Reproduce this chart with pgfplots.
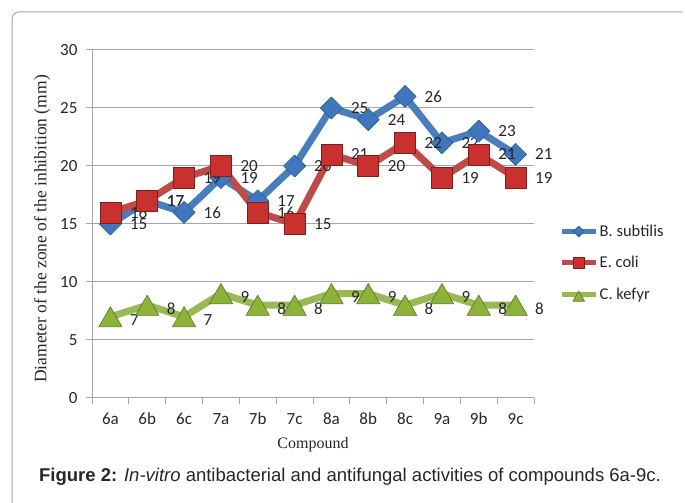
\documentclass[border=0pt]{standalone}
\usepackage{fontspec}
\setmainfont{Carlito}
\newfontfamily\serifl{Liberation Serif}
\newfontfamily\arial{Liberation Sans}
\usepackage{pgfplots}
\usepackage{pgfplotstable}
\pgfplotsset{compat=1.18}
\definecolor{bsline}{HTML}{4A7EBB}
\definecolor{bsmark}{HTML}{3E77BC}
\definecolor{bsedge}{HTML}{2C5A8F}
\definecolor{ecline}{HTML}{BE4B48}
\definecolor{ecmark}{HTML}{C9312F}
\definecolor{ecedge}{HTML}{7F1F1D}
\definecolor{ckline}{HTML}{98B954}
\definecolor{ckmark}{HTML}{8CB23A}
\definecolor{ckedge}{HTML}{5A7424}
\definecolor{gridc}{HTML}{A6A6A6}
\definecolor{txt}{HTML}{262626}
\pgfplotstableread{
x bs ec ck
0 15 16 7
1 17 17 8
2 16 19 7
3 19 20 9
4 17 16 8
5 20 15 8
6 25 21 9
7 24 20 9
8 26 22 8
9 22 19 9
10 23 21 8
11 21 19 8
}\data
\begin{document}
\begin{tikzpicture}[x=1pt,y=1pt]
\useasboundingbox (0,0) rectangle (685,503);
\draw[gridc, line width=1pt, rounded corners=7pt] (12,0) -- (12,491) -- (683,491);
\begin{axis}[
  at={(92pt,105pt)}, anchor=south west,
  scale only axis, width=442pt, height=348pt,
  xmin=-0.5, xmax=11.5, ymin=0, ymax=30,
  axis x line*=bottom, axis y line*=left,
  axis line style={gridc, line width=1pt, -},
  xtick={-0.5,0.5,...,11.5}, xticklabels={},
  extra x ticks={0,1,...,11},
  extra x tick labels={6a,6b,6c,7a,7b,7c,8a,8b,8c,9a,9b,9c},
  extra x tick style={major tick length=0pt, grid=none},
  xticklabel style={text height=11.5pt, text depth=3.5pt, yshift=-11.5pt},
  yticklabel style={xshift=-5pt},
  ytick={0,5,...,30},
  tick align=outside, major tick length=6pt,
  tick style={gridc, line width=1pt},
  ymajorgrids, grid style={gridc, line width=1pt},
  ticklabel style={font=\fontsize{17}{20}\selectfont, text=txt},
  /pgf/number format/assume math mode=true,
  clip=false,
  point meta=y,
  nodes near coords,
  every node near coord/.append style={anchor=west, xshift=16pt, font=\fontsize{17}{20}\selectfont, text=txt},
  legend style={at={(1.0566,0.388)}, anchor=west, draw=none, fill=none, font=\fontsize{16.5}{19}\selectfont, text=txt, row sep=15.5pt, inner sep=0pt, nodes={inner sep=1.5pt}},
  legend cell align=left,
  legend image code/.code={\draw[#1, line width=5pt, mark repeat=2, mark phase=2, every mark/.append style={scale=0.5}] plot coordinates {(0pt,0pt) (17pt,0pt) (34pt,0pt)};},
]
\addplot[bsline, line width=7pt, line join=round, mark=square*, mark size=7.8pt, mark options={rotate=45, fill=bsmark, draw=bsedge, line width=0.6pt}] table[x=x,y=bs]{\data};
\addlegendentry{B. subtilis}
\addplot[ecline, line width=7pt, line join=round, mark=square*, mark size=10.5pt, mark options={fill=ecmark, draw=ecedge, line width=0.6pt}] table[x=x,y=ec]{\data};
\addlegendentry{E. coli}
\addplot[ckline, line width=7pt, line join=round, mark=triangle*, mark size=13.5pt, mark options={yshift=-3.4pt, fill=ckmark, draw=ckedge, line width=0.6pt}] table[x=x,y=ck]{\data};
\addlegendentry{C. kefyr}
\end{axis}
\node[rotate=90, font=\serifl\fontsize{17.5}{20}\selectfont, text=txt] at (42,274) {Diameter of the zone of the inhibition (mm)};
\node[font=\serifl\fontsize{16}{19}\selectfont, text=txt] at (313,58) {Compound};
\node[font=\arial\fontsize{18.5}{22}\selectfont, text=txt] at (350,26) {\textbf{Figure 2:} \textit{In-vitro} antibacterial and antifungal activities of compounds 6a-9c.};
\end{tikzpicture}
\end{document}
